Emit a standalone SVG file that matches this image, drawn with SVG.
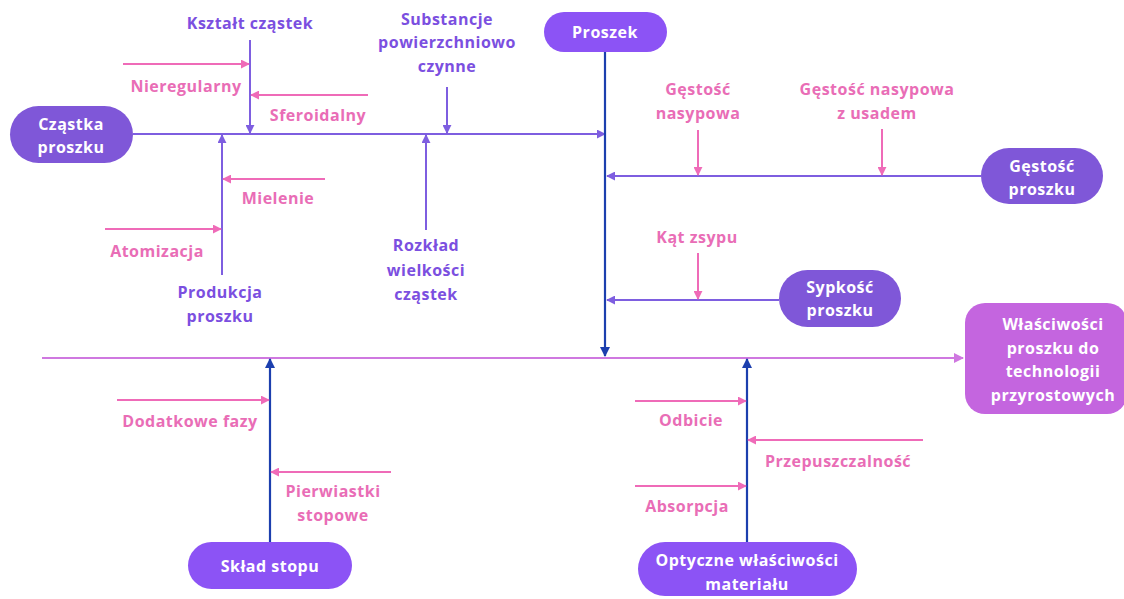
<svg xmlns="http://www.w3.org/2000/svg" width="1124" height="599" viewBox="0 0 1124 599">
  <style>
    text { font-family: "Open Sans", Lato, "Noto Sans", "DejaVu Sans", sans-serif; font-weight: 700; font-size: 16px; letter-spacing: 0.5px; text-anchor: middle; }
    .node-text { fill: #ffffff; }
    .cat { fill: #7b4fe0; }
    .sub { fill: #e96db6; }
    .ln-purple { stroke: #7e5ee0; stroke-width: 2; fill: none; }
    .ln-blue { stroke: #1c3fae; stroke-width: 2.2; fill: none; }
    .ln-pink { stroke: #ef6bb8; stroke-width: 2; fill: none; }
    .ln-spine { stroke: #cf78e0; stroke-width: 2.2; fill: none; }
    .n-dark { fill: #7f57d8; }
    .n-bright { fill: #8c53f5; }
    .n-target { fill: #c465df; }
  </style>
  <defs>
    <marker id="ah-purple" viewBox="0 0 10 10" refX="9" refY="5" markerWidth="9" markerHeight="9" markerUnits="userSpaceOnUse" orient="auto">
      <path d="M0,0 L10,5 L0,10 z" fill="#7e5ee0"/>
    </marker>
    <marker id="ah-blue" viewBox="0 0 10 10" refX="9" refY="5" markerWidth="10" markerHeight="10" markerUnits="userSpaceOnUse" orient="auto">
      <path d="M0,0 L10,5 L0,10 z" fill="#1c3fae"/>
    </marker>
    <marker id="ah-pink" viewBox="0 0 10 10" refX="9" refY="5" markerWidth="9" markerHeight="9" markerUnits="userSpaceOnUse" orient="auto">
      <path d="M0,0 L10,5 L0,10 z" fill="#ef6bb8"/>
    </marker>
    <marker id="ah-spine" viewBox="0 0 10 10" refX="9" refY="5" markerWidth="10" markerHeight="10" markerUnits="userSpaceOnUse" orient="auto">
      <path d="M0,0 L10,5 L0,10 z" fill="#cf78e0"/>
    </marker>
  </defs>

  <!-- connectors -->
  <g id="connectors">
    <!-- main spine -->
    <line class="ln-spine" x1="42" y1="358" x2="963" y2="358" marker-end="url(#ah-spine)"/>
    <!-- upper left branch: particle -->
    <line class="ln-purple" x1="133" y1="134" x2="605" y2="134" marker-end="url(#ah-purple)"/>
    <line class="ln-purple" x1="250" y1="40" x2="250" y2="133" marker-end="url(#ah-purple)"/>
    <line class="ln-purple" x1="447" y1="87" x2="447" y2="133" marker-end="url(#ah-purple)"/>
    <line class="ln-purple" x1="426" y1="230" x2="426" y2="135" marker-end="url(#ah-purple)"/>
    <line class="ln-purple" x1="222" y1="275" x2="222" y2="135" marker-end="url(#ah-purple)"/>
    <line class="ln-pink" x1="123" y1="64" x2="249" y2="64" marker-end="url(#ah-pink)"/>
    <line class="ln-pink" x1="368" y1="95" x2="251" y2="95" marker-end="url(#ah-pink)"/>
    <line class="ln-pink" x1="325" y1="179" x2="223" y2="179" marker-end="url(#ah-pink)"/>
    <line class="ln-pink" x1="105" y1="229" x2="221" y2="229" marker-end="url(#ah-pink)"/>
    <!-- powder branch -->
    <line class="ln-blue" x1="605" y1="52" x2="605" y2="356" marker-end="url(#ah-blue)"/>
    <line class="ln-purple" x1="981" y1="176" x2="607" y2="176" marker-end="url(#ah-purple)"/>
    <line class="ln-purple" x1="779" y1="300" x2="607" y2="300" marker-end="url(#ah-purple)"/>
    <line class="ln-pink" x1="698" y1="130" x2="698" y2="175" marker-end="url(#ah-pink)"/>
    <line class="ln-pink" x1="882" y1="129" x2="882" y2="175" marker-end="url(#ah-pink)"/>
    <line class="ln-pink" x1="698" y1="253" x2="698" y2="299" marker-end="url(#ah-pink)"/>
    <!-- alloy branch -->
    <line class="ln-blue" x1="270" y1="542" x2="270" y2="359" marker-end="url(#ah-blue)"/>
    <line class="ln-pink" x1="117" y1="400" x2="269" y2="400" marker-end="url(#ah-pink)"/>
    <line class="ln-pink" x1="391" y1="472" x2="271" y2="472" marker-end="url(#ah-pink)"/>
    <!-- optical branch -->
    <line class="ln-blue" x1="747" y1="542" x2="747" y2="359" marker-end="url(#ah-blue)"/>
    <line class="ln-pink" x1="635" y1="401" x2="746" y2="401" marker-end="url(#ah-pink)"/>
    <line class="ln-pink" x1="923" y1="440" x2="748" y2="440" marker-end="url(#ah-pink)"/>
    <line class="ln-pink" x1="635" y1="486" x2="746" y2="486" marker-end="url(#ah-pink)"/>
  </g>

  <!-- nodes -->
  <g id="node-czastka">
    <rect class="n-dark" x="10" y="106" width="123" height="57" rx="28.5"/>
    <text class="node-text" x="71" y="130">Cząstka</text>
    <text class="node-text" x="71" y="153">proszku</text>
  </g>
  <g id="node-proszek">
    <rect class="n-bright" x="544" y="12" width="123" height="40" rx="20"/>
    <text class="node-text" x="605" y="38">Proszek</text>
  </g>
  <g id="node-gestosc">
    <rect class="n-dark" x="981" y="148" width="122" height="56" rx="28"/>
    <text class="node-text" x="1042" y="172">Gęstość</text>
    <text class="node-text" x="1042" y="195">proszku</text>
  </g>
  <g id="node-sypkosc">
    <rect class="n-dark" x="779" y="270" width="122" height="57" rx="28.5"/>
    <text class="node-text" x="840" y="293">Sypkość</text>
    <text class="node-text" x="840" y="316">proszku</text>
  </g>
  <g id="node-wlasciwosci">
    <rect class="n-target" x="965" y="303" width="162" height="111" rx="20"/>
    <text class="node-text" x="1053" y="330">Właściwości</text>
    <text class="node-text" x="1053" y="354">proszku do</text>
    <text class="node-text" x="1053" y="377">technologii</text>
    <text class="node-text" x="1053" y="401">przyrostowych</text>
  </g>
  <g id="node-sklad">
    <rect class="n-bright" x="188" y="542" width="164" height="47" rx="23.5"/>
    <text class="node-text" x="270" y="572">Skład stopu</text>
  </g>
  <g id="node-optyczne">
    <rect class="n-bright" x="638" y="542" width="219" height="54" rx="27"/>
    <text class="node-text" x="747" y="566">Optyczne właściwości</text>
    <text class="node-text" x="747" y="590">materiału</text>
  </g>

  <!-- cause labels -->
  <g id="label-ksztalt"><text class="cat" x="250" y="29">Kształt cząstek</text></g>
  <g id="label-substancje">
    <text class="cat" x="447" y="25">Substancje</text>
    <text class="cat" x="447" y="48">powierzchniowo</text>
    <text class="cat" x="447" y="72">czynne</text>
  </g>
  <g id="label-rozklad">
    <text class="cat" x="426" y="251">Rozkład</text>
    <text class="cat" x="426" y="276">wielkości</text>
    <text class="cat" x="426" y="300">cząstek</text>
  </g>
  <g id="label-produkcja">
    <text class="cat" x="220" y="298">Produkcja</text>
    <text class="cat" x="220" y="322">proszku</text>
  </g>

  <!-- sub-cause labels -->
  <g id="label-nieregularny"><text class="sub" x="186" y="92">Nieregularny</text></g>
  <g id="label-sferoidalny"><text class="sub" x="318" y="121">Sferoidalny</text></g>
  <g id="label-mielenie"><text class="sub" x="278" y="204">Mielenie</text></g>
  <g id="label-atomizacja"><text class="sub" x="157" y="257">Atomizacja</text></g>
  <g id="label-gestosc-nasypowa">
    <text class="sub" x="698" y="95">Gęstość</text>
    <text class="sub" x="698" y="119">nasypowa</text>
  </g>
  <g id="label-gestosc-usadem">
    <text class="sub" x="877" y="95">Gęstość nasypowa</text>
    <text class="sub" x="877" y="119">z usadem</text>
  </g>
  <g id="label-kat"><text class="sub" x="697" y="243">Kąt zsypu</text></g>
  <g id="label-dodatkowe"><text class="sub" x="190" y="427">Dodatkowe fazy</text></g>
  <g id="label-pierwiastki">
    <text class="sub" x="333" y="497">Pierwiastki</text>
    <text class="sub" x="333" y="521">stopowe</text>
  </g>
  <g id="label-odbicie"><text class="sub" x="691" y="426">Odbicie</text></g>
  <g id="label-przepuszczalnosc"><text class="sub" x="838" y="467">Przepuszczalność</text></g>
  <g id="label-absorpcja"><text class="sub" x="687" y="512">Absorpcja</text></g>
</svg>
